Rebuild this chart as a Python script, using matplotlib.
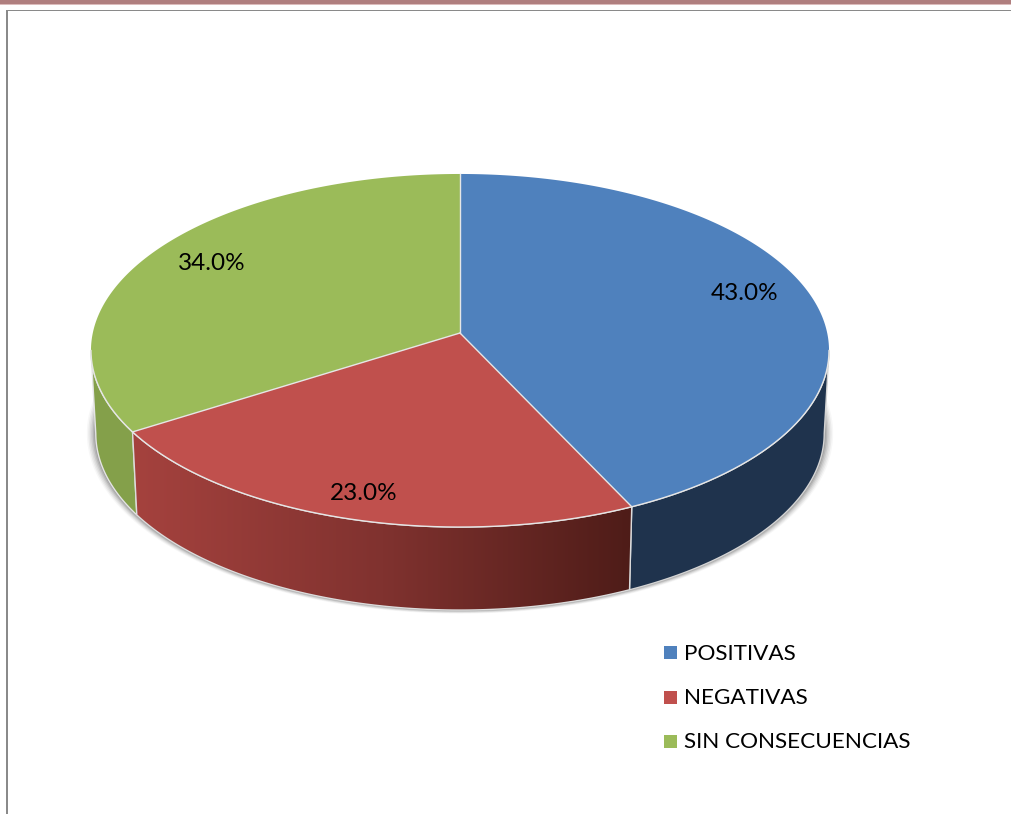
"""Recreate a 3D-looking pie chart (POSITIVAS / NEGATIVAS / SIN CONSECUENCIAS)."""
import numpy as np
import matplotlib
matplotlib.use("Agg")  # headless
import matplotlib.pyplot as plt
from matplotlib.patches import Polygon, Rectangle
from matplotlib.colors import LinearSegmentedColormap

categories = ["POSITIVAS", "NEGATIVAS", "SIN CONSECUENCIAS"]
values = [43.0, 23.0, 34.0]
top_colours = ["#4f81bd", "#c0504d", "#9bbb59"]
label_positions = [(745, 293), (364, 494), (212, 264)]

FONT = "Lato"
LABEL_SIZE = 17.5
LEGEND_SIZE = 16.2

# perspective pie, in pixel coordinates
APEX_X, APEX_Y = 460, 333
DEPTH = 83
K = 0.0992      # perspective strength
A = 174.8       # vertical scale
C = 367.2       # horizontal scale
BOTTOM_SCALE = 0.987
RIGHT_TANGENT = 95.7   # where the wall silhouette leaves the rim
LEFT_TANGENT = 264.3


def rim(t_deg, bottom=False, grow_x=0.0, grow_y=0.0):
    """Points on the pie rim, t in degrees clockwise from the top."""
    t = np.radians(t_deg)
    u, v = np.sin(t), np.cos(t)
    d = 1 + K * v
    xs = C * u / d
    ys = -A * v / d
    if bottom:
        return APEX_X + xs * BOTTOM_SCALE + grow_x * u, APEX_Y + DEPTH + ys - grow_y * v
    return APEX_X + xs, APEX_Y + ys


def side_polygon(t0, t1):
    ts = np.linspace(t0, t1, 120)
    x1, y1 = rim(ts)
    x2, y2 = rim(ts, bottom=True)
    return np.column_stack([np.r_[x1, x2[::-1]], np.r_[y1, y2[::-1]]])


fig = plt.figure(figsize=(10.11, 8.14), dpi=100)
ax = fig.add_axes([0, 0, 1, 1])
ax.set_xlim(0, 1011)
ax.set_ylim(814, 0)
ax.axis("off")

# page decoration: rose band and chart frame
ax.add_patch(Rectangle((0, 0), 1011, 4, fc="#b07f7f", ec="none"))
ax.add_patch(Rectangle((0, 4), 1011, 1, fc="#dcbcbc", ec="none"))
ax.add_patch(Rectangle((6, 10), 1005, 1.4, fc="#8a8a8a", ec="none"))
ax.add_patch(Rectangle((6, 10), 2, 804, fc="#8a8a8a", ec="none"))

# soft shadow under the pie
ts_all = np.linspace(0, 360, 361)
for step, alpha in zip([6, 5, 4, 3, 2, 1], [0.03, 0.05, 0.06, 0.08, 0.1, 0.12]):
    xs, ys = rim(ts_all, bottom=True, grow_x=step * 1.5, grow_y=step * 0.6)
    ax.add_patch(Polygon(np.column_stack([xs, ys]), fc="black", ec="none", alpha=alpha, zorder=1))

bounds = np.r_[0, np.cumsum(values)] / sum(values) * 360

# side walls: blue and green flat, red with a horizontal gradient
ax.add_patch(Polygon(side_polygon(RIGHT_TANGENT, bounds[1]), fc="#1f334d", ec="#d4d4d4", lw=1, zorder=2))
ax.add_patch(Polygon(side_polygon(bounds[2], LEFT_TANGENT), fc="#84a04a", ec="#e4e4e4", lw=1, zorder=2))

red_cmap = LinearSegmentedColormap.from_list("red_side", ["#a5423e", "#80322f", "#4e1c18"])
red_side = Polygon(side_polygon(bounds[1], bounds[2]), fc="none", ec="none", zorder=3)
ax.add_patch(red_side)
grad = ax.imshow(np.linspace(0, 1, 256)[None, :], cmap=red_cmap, aspect="auto",
                 extent=(132, 634, 612, 430), zorder=3)
grad.set_clip_path(red_side)
ax.set_xlim(0, 1011)
ax.set_ylim(814, 0)
ax.add_patch(Polygon(side_polygon(bounds[1], bounds[2]), fc="none", ec="#dcdcdc", lw=1, zorder=4))

# top faces, with light lines only along the radii and the front of the rim
for i in range(len(values)):
    ts = np.linspace(bounds[i], bounds[i + 1], 200)
    xs, ys = rim(ts)
    pts = np.column_stack([np.r_[APEX_X, xs], np.r_[APEX_Y, ys]])
    ax.add_patch(Polygon(pts, fc=top_colours[i], ec="none", zorder=5))
    bx, by = rim(bounds[i])
    ax.plot([APEX_X, bx], [APEX_Y, by], color="#e6e6e6", lw=1, zorder=6)
front_x, front_y = rim(np.linspace(RIGHT_TANGENT, LEFT_TANGENT, 300))
ax.plot(front_x, front_y, color="#e6e6e6", lw=1, zorder=6)

# percentage labels
for val, (lx, ly) in zip(values, label_positions):
    ax.text(lx, ly, f"{val:.1f}%", ha="center", va="center", family=FONT,
            fontsize=LABEL_SIZE, color="black", zorder=7)

# legend
legend_y = [652.5, 697, 741]
text_y = [653.5, 698.5, 742.5]
for name, colour, y, ty in zip(categories, top_colours, legend_y, text_y):
    ax.add_patch(Rectangle((664, y - 6.5), 13, 13, fc=colour, ec="none"))
    ax.text(684, ty, name, ha="left", va="center", family=FONT, fontsize=LEGEND_SIZE, color="black")

fig.savefig("out.png", dpi=100)
